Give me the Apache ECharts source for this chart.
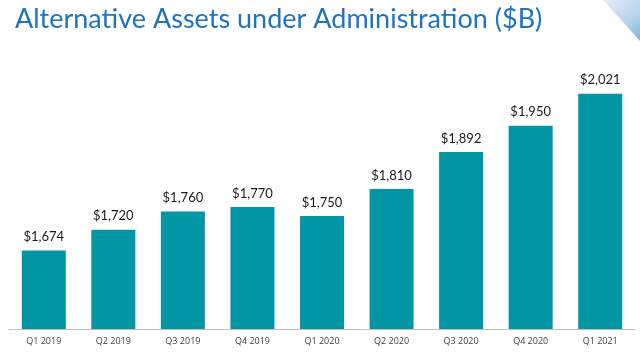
<!DOCTYPE html>
<html>
<head>
<meta charset="utf-8">
<script src="https://cdn.jsdelivr.net/npm/echarts@6/dist/echarts.min.js"></script>
<style>html,body{margin:0;padding:0;background:#fff}#c{width:640px;height:358px}</style>
</head>
<body>
<div id="c"></div>
<script>
const categories = ['Q1 2019','Q2 2019','Q3 2019','Q4 2019','Q1 2020','Q2 2020','Q3 2020','Q4 2020','Q1 2021'];
const values = [1674, 1720, 1760, 1770, 1750, 1810, 1892, 1950, 2021];
const titleText = 'Alternative Assets under Administration ($B)';

const chart = echarts.init(document.getElementById('c'), null, {renderer:'canvas'});
chart.setOption({
  animation: false,
  backgroundColor: '#ffffff',
  title: {
    text: titleText,
    left: 10, top: 1,
    textStyle: {fontFamily: 'Lato', fontSize: 27, fontWeight: 'normal', color: '#1E73BE'}
  },
  graphic: [{
    type: 'polygon',
    shape: {points: [[603,0],[640,0],[640,41]]},
    style: {fill: new echarts.graphic.LinearGradient(0,0,1,1,[{offset:0,color:'#e6eff7'},{offset:0.6,color:'#b7d3ec'},{offset:1,color:'#7fb3de'}])}
  }],
  grid: {left: 9, right: 5, top: 58, bottom: 29, containLabel: false},
  xAxis: {
    type: 'category',
    data: categories,
    axisLine: {lineStyle: {color: '#bfbfbf', width: 1}},
    axisTick: {show: false},
    axisLabel: {fontFamily: 'Open Sans', fontSize: 9, color: '#404040', margin: 8}
  },
  yAxis: {
    type: 'value', min: 1500, max: 2100,
    show: false
  },
  series: [{
    type: 'bar',
    data: values,
    barWidth: 44,
    itemStyle: {color: '#0096A6'},
    label: {
      show: true, position: 'top', distance: 7,
      formatter: p => '$' + p.value.toLocaleString('en-US'),
      fontFamily: 'Lato', fontSize: 13, color: '#1a1a1a'
    }
  }]
});
</script>
</body>
</html>
